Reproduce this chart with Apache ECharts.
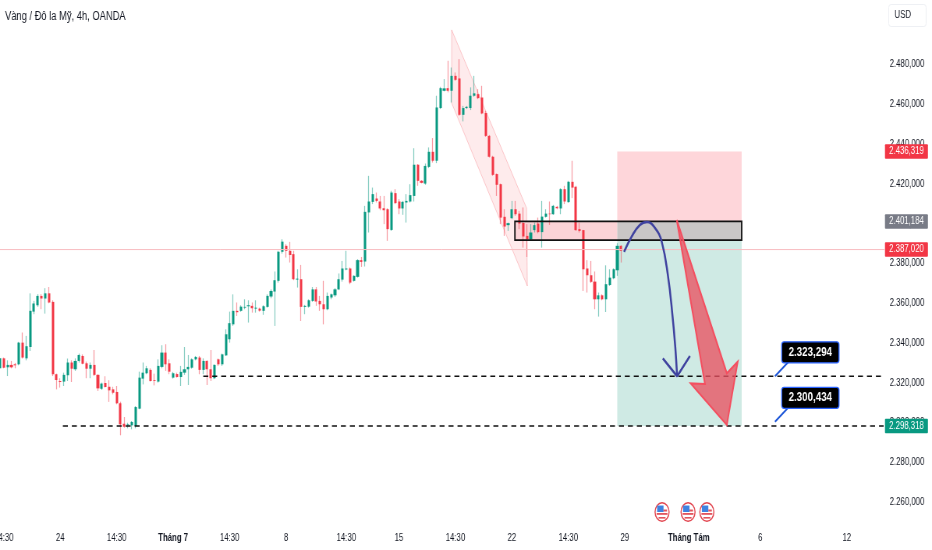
<!DOCTYPE html>
<html><head><meta charset="utf-8">
<style>html,body{margin:0;padding:0;background:#fff;overflow:hidden;width:932px;height:550px}#c{width:1195px;height:550px;transform:scaleX(0.7799);transform-origin:0 0}</style>
<script src="https://cdn.jsdelivr.net/npm/echarts@6/dist/echarts.min.js"></script>
</head><body><div id="c"></div>
<script>
const opens=[2327.3,2332.3,2327.8,2329,2329.3,2329.3,2340.2,2332.3,2338,2355.8,
2359,2363.7,2362.4,2365,2360.7,2324.3,2320.9,2320.6,2323.8,2330.2,
2326.8,2331,2333.5,2329.8,2327.1,2329,2324,2317,2319.9,2318,
2316.7,2315.4,2309.7,2299.4,2298.6,2298.6,2298.3,2307,2322.1,2324.8,
2326.5,2321.3,2320.6,2328,2335.2,2329.8,2322.6,2324.4,2322.9,2325.1,
2326.8,2327.6,2331.8,2332.7,2326.5,2331,2326.8,2322.3,2331.8,2329.3,
2333.8,2341.9,2349.4,2356.2,2356.2,2357.8,2358.5,2358.7,2357.3,2357.3,
2356.2,2358.2,2363.4,2365.9,2371.3,2385.9,2388.9,2386.4,2384.7,2371.9,
2372.1,2358.2,2358.3,2361.2,2367,2361.2,2359.5,2357,2362.9,2364,
2367,2371.9,2377,2377.5,2371.3,2373.3,2381.7,2381,2405.7,2411,
2412.7,2411.2,2407.8,2407.3,2396.9,2415.4,2411.2,2407.7,2410.7,2411.2,
2414,2429.7,2421.6,2420.2,2428.6,2436.2,2431.7,2458.2,2466.9,2468.2,
2466.9,2474.4,2473.1,2454.8,2458.2,2458.2,2464.4,2465.2,2463.5,2455.7,
2444.2,2433.7,2425,2419.9,2403.5,2399.3,2402.8,2407.3,2405.1,2400.4,
2393.9,2392.1,2396.8,2400.1,2395.8,2403.5,2405.1,2404.8,2408.5,2407.7,
2417.4,2410.9,2421.1,2418.6,2397.3,2396.8,2377.5,2374.1,2370.9,2362,
2364,2362,2369.2,2372.6,2376.6,2388.9];
const closes=[2332.3,2327.6,2329,2327.8,2328.8,2340.2,2332.7,2338.4,2356.2,2359.9,
2363.7,2362.4,2365,2360.4,2324.3,2321.4,2320.4,2324,2330.2,2327.1,
2331,2334,2329.6,2327.1,2329,2324,2317.2,2319.6,2317.9,2316.2,
2315,2309.7,2299.1,2297.9,2299.1,2300.3,2307.8,2322.6,2325.1,2327.3,
2320.9,2320.9,2328.5,2335.2,2329.3,2325.6,2324.8,2322.9,2325.5,2326.8,
2328,2331.8,2333,2326.5,2331,2326.8,2322.3,2329,2329.3,2334.3,
2344.4,2350,2356.2,2355.5,2358.3,2358.2,2359,2357.5,2357.8,2356.3,
2358.5,2363.7,2366.2,2371.6,2385.9,2391,2386.4,2384.3,2372.1,2372.4,
2358.2,2358.7,2361.5,2367,2360.9,2359.5,2357,2363.7,2364.5,2367,
2372.1,2377.5,2377.5,2370.4,2373.8,2381.7,2380.8,2406,2411.2,2414.9,
2411.5,2407.7,2406.8,2397.3,2415.7,2410.4,2407.7,2411,2411.5,2414.4,
2429.7,2421.6,2420.6,2429.1,2436.2,2431.7,2458.5,2468.2,2468.1,2466.9,
2474.4,2472.4,2454.8,2458.2,2458.8,2464.4,2465.6,2463.2,2455.5,2444.2,
2433.7,2424.6,2419.6,2403.1,2398.6,2400.3,2407.3,2404.8,2400.1,2393.6,
2392.2,2395.6,2399.3,2395.8,2403.6,2405.1,2404.8,2409,2407.8,2417.4,
2411.2,2421.1,2418.2,2396.8,2396.4,2377.1,2374.1,2370.8,2362,2364,
2362,2369.6,2372.9,2377.1,2388.9,2386.4];
const highs=[2332.6,2332.7,2331.3,2331,2330,2340.6,2345.3,2343.6,2365,2361.2,
2364.6,2364.6,2367.6,2368.2,2361.5,2324.6,2322.3,2325.1,2332.2,2331.3,
2332.3,2334.7,2334.3,2330.7,2330.2,2336.5,2324.3,2320.1,2323.3,2321.3,
2318,2318.4,2310.5,2302.8,2299.9,2300.8,2308.3,2325.6,2330.2,2328.5,
2327.3,2324.6,2331.8,2338.9,2339.4,2331.8,2325.5,2325.1,2328.5,2338,
2334,2332.3,2333.5,2333.5,2332.3,2331.3,2336.5,2329.3,2332.2,2334.7,
2346.9,2355.8,2364.5,2360.4,2359,2362,2361.5,2360.4,2361.5,2357.8,
2359,2364.5,2367,2376,2386.4,2392.2,2389.7,2390.9,2386.4,2377.1,
2379.3,2359.2,2362,2368.2,2368.2,2363.7,2371.3,2365.4,2364.9,2367.6,
2375,2381.3,2386.4,2378,2374.1,2382.2,2383.3,2409,2424.1,2418.2,
2415.7,2414,2414,2407.8,2416.6,2417.4,2412.4,2411.5,2414.9,2419.9,
2438,2430,2422,2430.3,2438.4,2443.1,2464.4,2468.9,2472.8,2482,
2478.6,2476.1,2482.8,2459.3,2459.3,2468.6,2474.4,2467.7,2469.4,2456.8,
2444.7,2434.2,2425.3,2420.2,2407.3,2400.6,2411.5,2411.5,2406.5,2408.2,
2399.8,2399.8,2400.6,2403.1,2411.5,2407.3,2411.2,2409.5,2409,2417.9,
2419.1,2421.6,2431.7,2419.1,2400.6,2396.9,2381.7,2381.3,2376,2365.4,
2364.5,2379.1,2377.1,2377.6,2390.2,2389.2];
const lows=[2327,2327.3,2323.4,2327.3,2327.3,2328.8,2332.2,2331.3,2336,2354.5,
2358.2,2357,2354.8,2360,2323.4,2316.7,2317.6,2318.4,2320.9,2320.4,
2326,2330.2,2329.3,2322.3,2322.3,2323.4,2315.9,2316.4,2317.6,2310.4,
2314.2,2309.2,2293.6,2297.4,2297.1,2296.6,2297.1,2306.7,2319.2,2324.3,
2320.6,2318.7,2320.1,2327.3,2326,2324.3,2322.1,2322.6,2318.4,2324,
2318.9,2327.1,2331.3,2324.3,2324.3,2318.9,2320.9,2321.8,2328.5,2328.5,
2333.5,2340.2,2348.6,2353.6,2355.7,2357,2350.3,2355.3,2355.3,2355.8,
2354.2,2357.8,2362.5,2348.6,2370.4,2385,2383,2380.5,2371.6,2367.9,
2351.1,2354.5,2357.8,2360.7,2358.7,2356.2,2349.4,2356.5,2362,2363.2,
2366.6,2370.9,2376.6,2369.6,2370.9,2372.9,2378.3,2378.5,2395.6,2409.9,
2410.7,2406.8,2399.8,2391.4,2396.4,2409.9,2404.8,2404.5,2400.6,2410.7,
2411.2,2419.1,2420.3,2419.6,2428,2430.8,2430.5,2457.7,2466.6,2466.1,
2461,2471.9,2454.3,2451.5,2457.7,2457.2,2463.9,2462.7,2455.1,2443.7,
2433.3,2424.1,2414,2399.8,2393.9,2396.4,2402.3,2404,2397.3,2388,
2383.3,2391.4,2395.6,2395.2,2388,2403.1,2399.4,2404.5,2407.3,2404.8,
2409.9,2410.5,2412.9,2396.4,2395.6,2366.2,2365.4,2370.2,2357,2353.3,
2361.5,2355.6,2368.7,2372.1,2373.8,2380.5];
const barCount=235;
const tickBars=[1,16,31,46,61,76,92,106,121,136,151,166,183,202,225];
const tickLabels=['14:30','24','14:30','Tháng 7','14:30','8','14:30','15','14:30','22','14:30','29','Tháng Tám','6','12'];
const titleText='Vàng / Đô la Mỹ, 4h, OANDA';
const currency='USD';
const channel=[[120,2497.5],[139.9,2407.9],[140.1,2368.7],[120,2460.7]];
const zoneBars=[164,197.05];
const zonePrices=[2436.319,2401.184,2391.8,2298.318];
const boxStartBar=136.8;
const lastPrice=2387.02;
const target1=[[54,2323.294],[235,2323.294]];
const target2=[[16.7,2298.318],[235,2298.318]];
const blueCurve=[[165.8,2385.9],[167.8,2393.5],[170,2399.4],[171.9,2400.9],[174,2397.9],[175.8,2391],[177.5,2373.4],[178.7,2353.2],[179.4,2338.2],[179.9,2323.3]];
const blueHead=[[176.1,2332.3],[179.9,2323.3],[183.3,2333.5]];
const redArrow=[[179.8,2401.9],[193.1,2324.8],[196,2330.6],[193.1,2298.8],[183.5,2319.7],[187.3,2319.4]];
const noteBar=205.9;
const notePrices=[2323.294,2300.434];
const noteTexts=['2.323,294','2.300,434'];
const tagPrices=[2436.319,2401.184,2387.02,2298.318];
const tagTexts=['2.436,319','2.401,184','2.387,020','2.298,318'];
const tagColors=['#f23645','#787b86','#f23645','#089981'];
const eventBars=[175.9,182.8,187.8];
const eventPrice=2255;

const GREEN='#089981',RED='#f23645',FONT='"Liberation Sans",Arial,sans-serif';
const categories=new Array(barCount).fill('').map((_,i)=>{const k=tickBars.indexOf(i);return k>=0?tickLabels[k]:''});
const wickData=opens.map((o,i)=>[o,closes[i],lows[i],highs[i]]);
const bodyData=opens.map((o,i)=>[o,closes[i],Math.min(o,closes[i]),Math.max(o,closes[i])]);
const pxBar=4.826;
const poly=(api,pts,style)=>({type:'polygon',shape:{points:pts.map(p=>api.coord(p))},style});
const rectOf=(api,x0,x1,p0,p1,style)=>{const a=api.coord([x0,p0]),b=api.coord([x1,p1]);return {type:'rect',shape:{x:a[0],y:a[1],width:b[0]-a[0],height:b[1]-a[1]},style}};
function renderZones(p,api){return {type:'group',children:[
  poly(api,channel,{fill:'rgba(242,54,69,0.10)',stroke:'rgba(242,54,69,0.25)',lineWidth:1}),
  rectOf(api,zoneBars[0],zoneBars[1],zonePrices[0],zonePrices[1],{fill:'#fed6da'}),
  rectOf(api,zoneBars[0],zoneBars[1],zonePrices[2],zonePrices[3],{fill:'#cfeae4'}),
  rectOf(api,boxStartBar,zoneBars[0],zonePrices[1],zonePrices[2],{fill:'#fbd3d7'}),
  rectOf(api,zoneBars[0],zoneBars[1],zonePrices[1],zonePrices[2],{fill:'#c9c6c6'})
]}}
function renderBoxEdge(p,api){return rectOf(api,boxStartBar,zoneBars[1],zonePrices[1],zonePrices[2],{fill:'none',stroke:'#111',lineWidth:1.8})}
function renderArrow(p,api){return poly(api,redArrow,{fill:'rgba(232,82,98,0.78)',stroke:'#f44f60',lineWidth:2,lineJoin:'miter'})}
function renderNotes(p,api){const ch=[];notePrices.forEach((v,i)=>{const a=api.coord([noteBar,v]);
  ch.push({type:'line',shape:{x1:a[0],y1:a[1],x2:a[0]+18,y2:a[1]-15},style:{stroke:'#1d56d8',lineWidth:2}});
  ch.push({type:'rect',shape:{x:a[0]+8.6,y:a[1]-34.4,width:73.5,height:21,r:3},style:{fill:'#000',stroke:'#2962ff',lineWidth:1.3}});
  ch.push({type:'text',style:{x:a[0]+45.3,y:a[1]-23.9,text:noteTexts[i],fill:'#fff',align:'center',verticalAlign:'middle',font:'bold 12.5px '+FONT}});
});return {type:'group',children:ch}}
function renderTags(p,api){const ch=[];tagPrices.forEach((v,i)=>{const a=api.coord([barCount-0.5,v]);
  ch.push({type:'rect',shape:{x:a[0]+3,y:a[1]-7.2,width:55.1,height:14.5,r:1},style:{fill:tagColors[i]}});
  ch.push({type:'text',style:{x:a[0]+30.6,y:a[1],text:tagTexts[i],fill:'#fff',align:'center',verticalAlign:'middle',font:'10px '+FONT}});
});return {type:'group',children:ch}}
function renderEvents(p,api){const ch=[];eventBars.forEach(b=>{const a=api.coord([b,eventPrice]),x=a[0],y=a[1];
  ch.push({type:'ellipse',shape:{cx:x,cy:y,rx:9,ry:9.3},style:{fill:'#fff',stroke:'#e2444e',lineWidth:1.4}});
  ch.push({type:'rect',shape:{x:x-6.4,y:y-6.5,width:8.3,height:6.5},style:{fill:'#3f82e0'}});
  ch.push({type:'rect',shape:{x:x+1.9,y:y-2.5,width:4.5,height:2},style:{fill:'#e2555e'}});
  ch.push({type:'rect',shape:{x:x-7,y:y+1,width:14,height:1.8},style:{fill:'#e2555e'}});
  ch.push({type:'rect',shape:{x:x-4.5,y:y+5,width:9,height:1.6},style:{fill:'#e2555e'}});
});return {type:'group',children:ch}}
const custom=(fn,z)=>({type:'custom',xAxisIndex:1,yAxisIndex:0,data:[[0,2400]],renderItem:fn,z,clip:false,silent:true,animation:false});
const line=(data,color,width,type,z,smooth)=>({type:'line',xAxisIndex:1,yAxisIndex:0,data,z,clip:false,smooth:smooth||false,showSymbol:false,symbol:'none',silent:true,animation:false,itemStyle:{color},lineStyle:{color,width,type}});
const chart=echarts.init(document.getElementById('c'),null,{renderer:'canvas',width:1195,height:550});
chart.setOption({
 animation:false,backgroundColor:'#fff',
 title:{text:titleText,left:1.4,top:5.5,textStyle:{fontFamily:FONT,fontSize:12,fontWeight:'normal',color:'#131722'}},
 grid:{left:-2.41,top:24.96,width:barCount*pxBar,height:516.88,containLabel:false,outerBoundsMode:'none'},
 xAxis:[
  {type:'category',data:categories,boundaryGap:true,position:'bottom',axisLine:{show:false},axisTick:{show:false},splitLine:{show:false},
   axisLabel:{margin:-9,interval:(i,v)=>v!=='',hideOverlap:false,color:'#131722',fontFamily:FONT,fontSize:10,
    formatter:v=>v.indexOf('Tháng')===0?'{b|'+v+'}':v,rich:{b:{fontWeight:'bold',fontFamily:FONT,fontSize:10,color:'#131722'}}}},
  {type:'value',min:-0.5,max:barCount-0.5,show:false,splitLine:{show:false}}
 ],
 yAxis:[{type:'value',position:'right',min:2240,max:2500,interval:20,axisLine:{show:false},axisTick:{show:false},splitLine:{show:false},
   axisLabel:{margin:9,color:'#131722',fontFamily:FONT,fontSize:10,showMinLabel:false,showMaxLabel:false,
    formatter:v=>'2.'+String(v).slice(1)+',000'}}],
 graphic:[
  {type:'rect',left:1139,top:4,shape:{width:48,height:22,r:3},style:{fill:'#fff',stroke:'#eef0f4',lineWidth:1}},
  {type:'text',left:1147,top:10,style:{text:currency,fill:'#131722',font:'10px '+FONT}}
 ],
 series:[
  custom(renderZones,1),
  {type:'candlestick',xAxisIndex:0,yAxisIndex:0,data:wickData,barWidth:1,z:2,silent:true,animation:false,
   itemStyle:{color:'rgba(8,153,129,0.5)',color0:'rgba(242,54,69,0.5)',borderColor:'rgba(8,153,129,0.5)',borderColor0:'rgba(242,54,69,0.5)',borderWidth:1.2}},
  {type:'candlestick',xAxisIndex:0,yAxisIndex:0,data:bodyData,barWidth:3.6,z:3,silent:true,animation:false,
   itemStyle:{color:GREEN,color0:RED,borderColor:GREEN,borderColor0:RED,borderWidth:0}},
  custom(renderBoxEdge,4),
  line([[-0.5,lastPrice],[235,lastPrice]],'#f8bcc1',1,'solid',4),
  line(target1,'#111',1.5,[6.4,5.1],5),
  line(target2,'#111',1.5,[6.4,5.1],5),
  line(blueCurve,'#3f429f',2.5,'solid',6,0.45),
  line(blueHead,'#3f429f',2.5,'solid',6),
  custom(renderArrow,7),
  custom(renderEvents,8),
  custom(renderNotes,9),
  custom(renderTags,10)
 ]
});
</script></body></html>
